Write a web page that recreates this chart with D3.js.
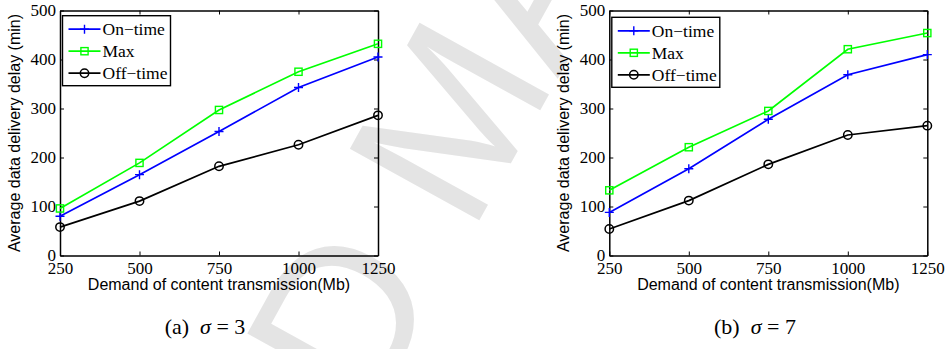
<!DOCTYPE html>
<html>
<head>
<meta charset="utf-8">
<script src="https://cdn.jsdelivr.net/npm/d3@7"></script>
<style>
	body { margin: 0; background: #fff; }
	svg { display: block; }
</style>
</head>
<body>
<svg id="chart" width="948" height="349"></svg>
<script>
// values
var xTicks = [250, 500, 750, 1000, 1250];
var yTicks = [0, 100, 200, 300, 400, 500];
var seriesNames = ['On\u2212time', 'Max', 'Off\u2212time'];
var onTimeA = [80, 165, 253, 343, 405];
var maxA = [96, 189, 297, 375, 432];
var offTimeA = [58, 111, 182, 226, 286];
var onTimeB = [88, 177, 278, 369, 410];
var maxB = [133, 221, 295, 421, 454];
var offTimeB = [54, 112, 186, 246, 265];

var colors = ['#0000ff', '#00ff00', '#000000'];
var markers = ['plus', 'square', 'circle'];

var svg = d3.select('#chart');
var serif = '"Liberation Serif", "Times New Roman", serif';
var sans = '"Liberation Sans", Arial, sans-serif';

// watermark behind everything
function watermark() {
	var g = svg.append('g')
		.attr('transform', 'translate(392,224) rotate(-61)')
		.attr('fill', '#e4e4e4')
		.style('font-family', sans)
		.style('font-size', '215px');
	g.append('text').attr('x', -28).attr('dominant-baseline', 'central')
		.attr('text-anchor', 'end').text('ACCEPTED');
	g.append('text').attr('x', 28).attr('dominant-baseline', 'central')
		.attr('text-anchor', 'start').text('MANUSCRIPT');
}
watermark();

function drawMarker(g, type, x, y, color) {
	if (type == 'plus') {
		g.append('path')
			.attr('d', 'M' + (x-4.5) + ',' + y + 'H' + (x+4.5) + 'M' + x + ',' + (y-4.5) + 'V' + (y+4.5))
			.attr('stroke', color).attr('stroke-width', 1.4).attr('fill', 'none');
	} else if (type == 'square') {
		g.append('rect')
			.attr('x', x-3.6).attr('y', y-3.6).attr('width', 7.2).attr('height', 7.2)
			.attr('stroke', color).attr('stroke-width', 1.4).attr('fill', 'none');
	} else {
		g.append('circle')
			.attr('cx', x).attr('cy', y).attr('r', 4.2)
			.attr('stroke', color).attr('stroke-width', 1.5).attr('fill', 'none');
	}
}

function drawPanel(p) {
	var top = 10.5, bottom = 255.5;
	var x = d3.scaleLinear().domain([250, 1250]).range([p.left, p.right]);
	var y = d3.scaleLinear().domain([0, 500]).range([bottom, top]);
	var g = svg.append('g');
	var fmt = d3.format('d');

	// axes, MATLAB style box with inward ticks
	g.append('g').attr('transform', 'translate(0,' + bottom + ')')
		.call(d3.axisBottom(x).tickValues(xTicks).tickFormat(fmt).tickSizeInner(-4).tickSizeOuter(0).tickPadding(6.5));
	g.append('g').attr('transform', 'translate(0,' + top + ')')
		.call(d3.axisTop(x).tickValues(xTicks).tickSizeInner(-4).tickSizeOuter(0).tickFormat(''));
	g.append('g').attr('transform', 'translate(' + p.left + ',0)')
		.call(d3.axisLeft(y).tickValues(yTicks).tickFormat(fmt).tickSizeInner(-4).tickSizeOuter(0).tickPadding(4));
	g.append('g').attr('transform', 'translate(' + p.right + ',0)')
		.call(d3.axisRight(y).tickValues(yTicks).tickSizeInner(-4).tickSizeOuter(0).tickFormat(''));
	g.selectAll('.domain').attr('stroke', '#000').attr('stroke-width', 1.5);
	g.selectAll('.tick line').attr('stroke', '#000').attr('stroke-width', 1);
	g.selectAll('.tick text').style('font-family', serif).style('font-size', '17px').attr('fill', '#000');

	// series
	var line = d3.line().x(function (d, i) { return x(xTicks[i]); }).y(function (d) { return y(d); });
	for (var s = 0; s<p.series.length; s++) {
		g.append('path').datum(p.series[s])
			.attr('d', line).attr('fill', 'none')
			.attr('stroke', colors[s]).attr('stroke-width', 1.7);
		for (var j = 0; j<p.series[s].length; j++) {
			drawMarker(g, markers[s], x(xTicks[j]), y(p.series[s][j]), colors[s]);
		}
	}

	// legend
	var lx = p.left + 2.5, ly = top + p.legendTop;
	var lg = g.append('g');
	lg.append('rect').attr('x', lx).attr('y', ly).attr('width', 108).attr('height', 70)
		.attr('fill', '#fff').attr('stroke', '#000').attr('stroke-width', 1.4);
	for (var k = 0; k<seriesNames.length; k++) {
		var yy = ly + 13.5 + k*22;
		lg.append('line').attr('x1', lx+6).attr('x2', lx+38).attr('y1', yy).attr('y2', yy)
			.attr('stroke', colors[k]).attr('stroke-width', 1.7);
		drawMarker(lg, markers[k], lx+22, yy, colors[k]);
		lg.append('text').attr('x', lx+40).attr('y', yy+6)
			.style('font-family', serif).style('font-size', '17.5px').text(seriesNames[k]);
	}

	// axis titles
	g.append('text')
		.attr('x', (p.left+p.right)/2).attr('y', 290)
		.attr('text-anchor', 'middle')
		.style('font-family', sans).style('font-size', '16px')
		.text('Demand of content transmission(Mb)');
	g.append('text')
		.attr('transform', 'translate(' + (p.left-40) + ',' + ((top+bottom)/2) + ') rotate(-90)')
		.attr('text-anchor', 'middle')
		.style('font-family', sans).style('font-size', '16px')
		.text('Average data delivery delay (min)');

	// caption
	var cap = g.append('text').attr('x', p.captionX).attr('y', 334)
		.attr('text-anchor', 'middle')
		.style('font-family', serif).style('font-size', '22px');
	cap.append('tspan').text('(' + p.letter + ')\u2002');
	cap.append('tspan').style('font-style', 'italic').text('\u03c3');
	cap.append('tspan').text(' = ' + p.sigma);
}

drawPanel({left: 60, right: 378, legendTop: 5.2, captionX: 205, letter: 'a', sigma: 3,
	series: [onTimeA, maxA, offTimeA]});
drawPanel({left: 609.3, right: 927.3, legendTop: 6.8, captionX: 755, letter: 'b', sigma: 7,
	series: [onTimeB, maxB, offTimeB]});
</script>
</body>
</html>
